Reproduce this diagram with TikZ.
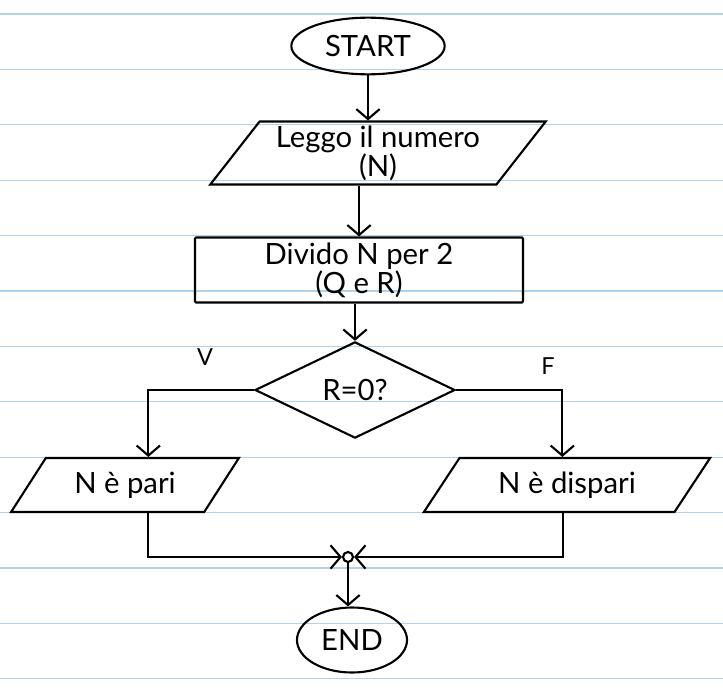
\documentclass[tikz,border=0pt]{standalone}
\usepackage{fontspec}
\setmainfont{Lato}
\usetikzlibrary{arrows.meta, shapes.geometric}
\definecolor{ruleblue}{RGB}{176,210,236}

\begin{document}
\begin{tikzpicture}[x=0.03cm, y=-0.03cm,
    pen/.style={draw, line width=1.8pt, black},
    arr/.style={pen, -{Straight Barb[length=3mm, width=7mm]}},
    txt/.style={font=\fontsize{25}{22}\selectfont},
    term/.style={pen, txt, ellipse},
    io/.style={pen, txt, trapezium, trapezium left angle=55, trapezium right angle=125,
               trapezium stretches=true, minimum height=1.6cm, align=center},
    proc/.style={pen, txt, rectangle, rounded corners=1pt, align=center},
    test/.style={pen, txt, diamond, inner sep=2pt},
    lab/.style={font=\fontsize{20}{22}\selectfont},
    dot/.style={pen, circle, inner sep=0pt, minimum size=0.3cm},
    rule/.style={ruleblue, line width=1pt}]
  \fill[white] (0,0) rectangle (723,697);
  \useasboundingbox (0,0) rectangle (723,697);
  \foreach \k in {0,...,12}
    \draw[rule] (0,14+55.4*\k) -- (723,14+55.4*\k);

  \node[term, minimum width=4.6cm, minimum height=1.7cm] (start) at (368,46) {START};
  \node[io, minimum width=10.1cm] (leg) at (378,153) {Leggo il numero\\(N)};
  \node[proc, minimum width=9.84cm, minimum height=1.95cm] (div) at (359,270) {Divido N per 2\\(Q e R)};
  \node[test, minimum width=6cm, minimum height=2.85cm] (dec) at (355,390) {R=0?};
  \node[io, minimum width=6.84cm, minimum height=1.62cm] (pari) at (125,485) {N è pari};
  \node[io, minimum width=8.6cm, minimum height=1.62cm] (disp) at (567,485) {N è dispari};
  \node[dot] (join) at (348,557) {};
  \node[term, minimum width=3.3cm, minimum height=1.95cm] (end) at (352,640) {END};
  \node[lab] (vero) at (205,357) {V};
  \node[lab] (falso) at (548,366) {F};

  \draw[arr] (start.south) -- (start.south |- leg.north);
  \draw[arr] (leg.south -| div.north) -- (div.north);
  \draw[arr] (div.south -| dec.north) -- (dec.north);
  \draw[arr] (dec.west) -| ([xshift=0.7cm]pari.north);
  \draw[arr] (dec.east) -| ([xshift=-0.14cm]disp.north);
  \draw[arr] ([xshift=0.7cm]pari.south) |- (join);
  \draw[arr] ([xshift=-0.12cm]disp.south) |- (join);
  \draw[arr] (join) -- (join |- end.north);
\end{tikzpicture}
\end{document}
